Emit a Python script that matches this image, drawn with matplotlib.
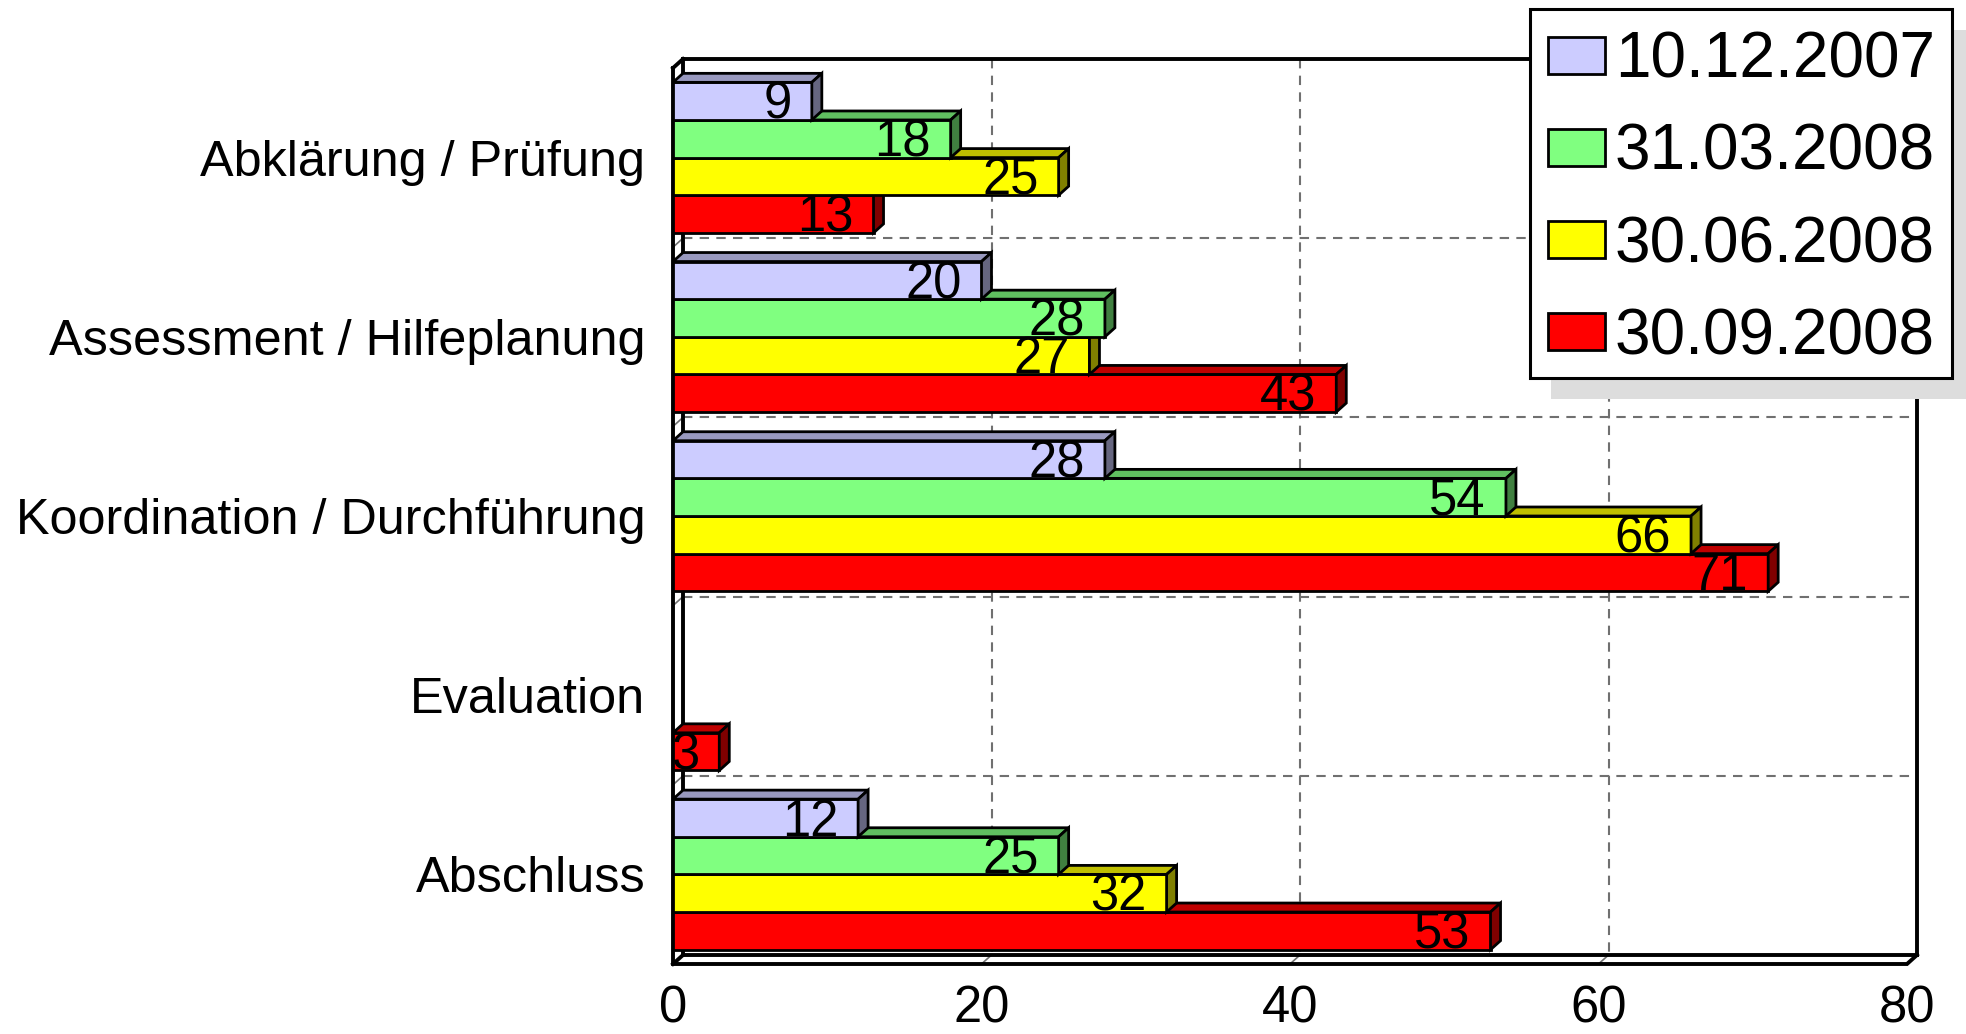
import matplotlib
matplotlib.use("Agg")
import matplotlib.pyplot as plt
from matplotlib.patches import Polygon, Rectangle

plt.rcParams['font.family'] = ['Liberation Sans', 'DejaVu Sans']

# data
categories = ["Abklärung / Prüfung", "Assessment / Hilfeplanung",
              "Koordination / Durchführung", "Evaluation", "Abschluss"]
dates = ["10.12.2007", "31.03.2008", "30.06.2008", "30.09.2008"]
v_2007_12 = [9, 20, 28, 0, 12]
v_2008_03 = [18, 28, 54, 0, 25]
v_2008_06 = [25, 27, 66, 0, 32]
v_2008_09 = [13, 43, 71, 3, 53]
series = [v_2007_12, v_2008_03, v_2008_06, v_2008_09]
xticks = [0, 20, 40, 60, 80]

front_colors = ["#CCCCFF", "#80FF80", "#FFFF00", "#FF0000"]
top_colors = ["#9999BF", "#60BF60", "#BFBF00", "#BF0000"]
side_colors = ["#666680", "#408040", "#808000", "#800000"]

W, H = 1966, 1034
fig = plt.figure(figsize=(W / 100, H / 100), dpi=100)
ax = fig.add_axes([673 / W, 1 - 964 / H, 1234 / W, 896 / H])
ax.set_xlim(0, 80)
ax.set_ylim(4.5, -0.5)
for s in ax.spines.values():
    s.set_visible(False)

# 3d depth in data units
dxd = 10 * 80 / 1234
dyd = 9 / 179.2
bh = 0.21

# walls / grid
grid_kw = dict(color="#707070", lw=1.5, dashes=(4.5, 3.5), clip_on=False, zorder=1)
for t in xticks[1:-1]:
    ax.plot([t + dxd, t + dxd], [-0.5 - dyd, 4.5 - dyd], **grid_kw)
    ax.plot([t, t + dxd], [4.5, 4.5 - dyd], color="#707070", lw=1.2, clip_on=False, zorder=1)
for b in [0.5, 1.5, 2.5, 3.5]:
    ax.plot([dxd, 80 + dxd], [b - dyd, b - dyd], **grid_kw)
    ax.plot([0, dxd], [b, b - dyd], color="#707070", lw=1.2, clip_on=False, zorder=1)

frame_kw = dict(color="black", lw=2.8, clip_on=False, zorder=2, solid_joinstyle="miter")
ax.plot([dxd, 80 + dxd, 80 + dxd], [-0.5 - dyd, -0.5 - dyd, 4.5 - dyd], **frame_kw)
ax.plot([dxd, dxd, 80 + dxd], [-0.5 - dyd, 4.5 - dyd, 4.5 - dyd], **frame_kw)
ax.plot([0, 0, 80, 80 + dxd], [-0.5, 4.5, 4.5, 4.5 - dyd], **frame_kw)
ax.plot([0, dxd], [-0.5, -0.5 - dyd], **frame_kw)
ax.plot([0, dxd], [4.5, 4.5 - dyd], **frame_kw)

# bars, drawn from bottom series up so fronts cover the top faces below
for j in range(3, -1, -1):
    off = (j - 1.5) * bh
    z = 3 + (3 - j)
    for i, v in enumerate(series[j]):
        if v == 0:
            continue
        yc = i + off
        y0, y1 = yc - bh / 2, yc + bh / 2
        ax.barh(yc, v, height=bh, color=front_colors[j], edgecolor="black",
                lw=2, zorder=z)
        ax.add_patch(Polygon([(0, y0), (v, y0), (v + dxd, y0 - dyd), (dxd, y0 - dyd)],
                             closed=True, fc=top_colors[j], ec="black", lw=2,
                             zorder=z, clip_on=False))
        ax.add_patch(Polygon([(v, y0), (v + dxd, y0 - dyd), (v + dxd, y1 - dyd), (v, y1)],
                             closed=True, fc=side_colors[j], ec="black", lw=2,
                             zorder=z, clip_on=False))
        ax.text(v - 1.3, y1 - 0.006, str(v), ha="right", va="baseline",
                fontsize=36.5, zorder=20, clip_on=False)

ax.set_xticks(xticks)
ax.set_yticks(range(len(categories)), categories)
ax.tick_params(axis="x", length=0, pad=15, labelsize=36.5)
ax.tick_params(axis="y", length=0, pad=20, labelsize=36.3)

# legend with shadow
def fx(x):
    return x / W

def fy(y):
    return 1 - y / H

fig.add_artist(Rectangle((fx(1551), fy(399)), (W - 1551) / W, (399 - 30) / H,
                         transform=fig.transFigure, fc="#DDDDDD", ec="none", zorder=10))
fig.add_artist(Rectangle((fx(1530), fy(378)), (1952 - 1530) / W, (378 - 9) / H,
                         transform=fig.transFigure, fc="white", ec="black", lw=2.2,
                         zorder=11))
for k, lab in enumerate(dates):
    cy = 55 + k * 92.3
    fig.add_artist(Rectangle((fx(1548), fy(cy + 18.5)), 57 / W, 37 / H,
                             transform=fig.transFigure, fc=front_colors[k],
                             ec="black", lw=2, zorder=12))
    fig.text(fx(1615), fy(cy + 22.5), lab, fontsize=46, ha="left", va="baseline",
             zorder=12)

fig.savefig("out.png", dpi=100)
